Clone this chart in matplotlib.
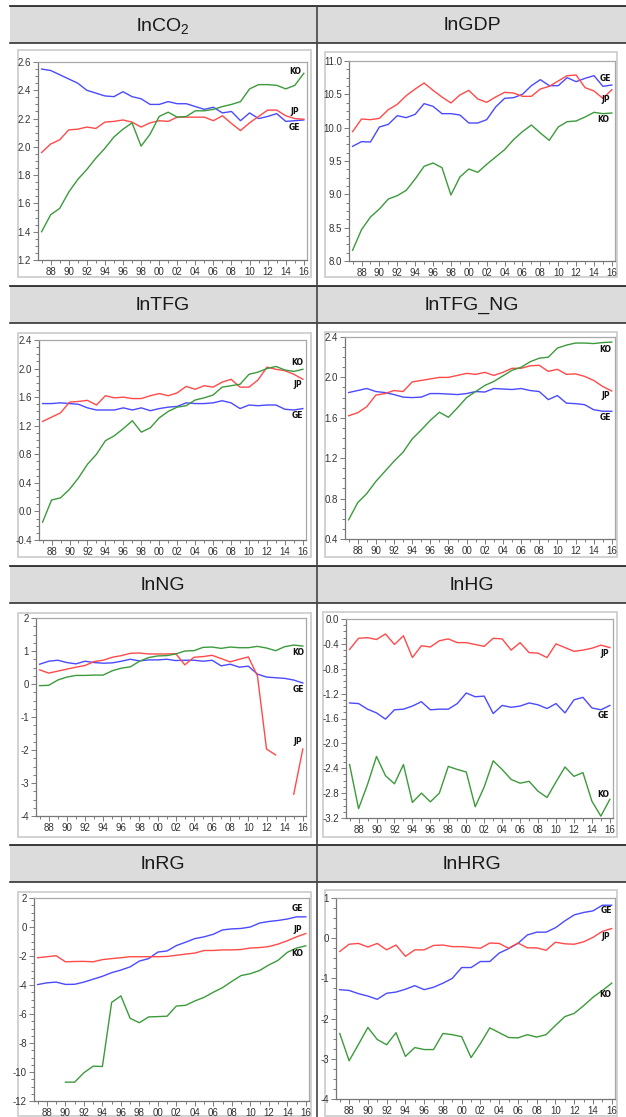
import numpy as np
import matplotlib
matplotlib.use("Agg")
import matplotlib.pyplot as plt
from matplotlib.patches import Rectangle
from matplotlib.lines import Line2D
from matplotlib.ticker import MultipleLocator, FuncFormatter

plt.rcParams['font.family'] = ['Liberation Sans', 'DejaVu Sans']
plt.rcParams['axes.unicode_minus'] = False
plt.rcParams['mathtext.fontset'] = 'custom'
plt.rcParams['mathtext.rm'] = 'Liberation Sans'
plt.rcParams['mathtext.it'] = 'Liberation Sans'

years = np.arange(1987, 2017)
nan = np.nan

# ---- data (1987..2016) ----
co2_ge = [2.55, 2.54, 2.51, 2.48, 2.45, 2.40, 2.38, 2.36, 2.355, 2.39, 2.355, 2.34, 2.30, 2.30, 2.32,
          2.305, 2.305, 2.285, 2.265, 2.28, 2.24, 2.25, 2.185, 2.24, 2.20, 2.215, 2.235, 2.18, 2.185, 2.19]
co2_jp = [1.96, 2.02, 2.05, 2.12, 2.125, 2.14, 2.13, 2.175, 2.18, 2.19, 2.175, 2.14, 2.17, 2.185, 2.18,
          2.21, 2.21, 2.21, 2.21, 2.185, 2.22, 2.165, 2.115, 2.17, 2.215, 2.26, 2.26, 2.22, 2.20, 2.195]
co2_ko = [1.40, 1.52, 1.565, 1.68, 1.77, 1.84, 1.92, 1.99, 2.07, 2.125, 2.17, 2.005, 2.09, 2.215, 2.245,
          2.21, 2.215, 2.255, 2.255, 2.265, 2.285, 2.30, 2.32, 2.41, 2.44, 2.44, 2.435, 2.41, 2.435, 2.52]

gdp_ge = [9.72, 9.79, 9.785, 10.01, 10.05, 10.18, 10.15, 10.20, 10.36, 10.32, 10.21, 10.21, 10.19, 10.07, 10.07,
          10.12, 10.31, 10.44, 10.45, 10.50, 10.63, 10.72, 10.63, 10.63, 10.75, 10.69, 10.74, 10.78, 10.62, 10.64]
gdp_jp = [9.94, 10.13, 10.12, 10.14, 10.27, 10.35, 10.48, 10.58, 10.67, 10.56, 10.46, 10.37, 10.49, 10.56, 10.43,
          10.38, 10.46, 10.53, 10.52, 10.47, 10.47, 10.58, 10.62, 10.70, 10.78, 10.79, 10.60, 10.55, 10.44, 10.57]
gdp_ko = [8.16, 8.47, 8.66, 8.78, 8.93, 8.98, 9.06, 9.23, 9.42, 9.47, 9.40, 8.99, 9.26, 9.38, 9.33,
          9.45, 9.56, 9.67, 9.82, 9.94, 10.04, 9.92, 9.81, 10.01, 10.09, 10.10, 10.16, 10.23, 10.21, 10.22]

tfg_ge = [1.51, 1.51, 1.52, 1.51, 1.50, 1.45, 1.42, 1.42, 1.42, 1.45, 1.42, 1.45, 1.41, 1.44, 1.46,
          1.47, 1.52, 1.51, 1.51, 1.52, 1.55, 1.52, 1.44, 1.49, 1.48, 1.49, 1.49, 1.43, 1.42, 1.44]
tfg_jp = [1.26, 1.32, 1.38, 1.53, 1.54, 1.555, 1.49, 1.62, 1.59, 1.60, 1.58, 1.58, 1.62, 1.65, 1.62,
          1.66, 1.75, 1.71, 1.76, 1.74, 1.81, 1.85, 1.74, 1.74, 1.84, 2.02, 1.99, 1.97, 1.92, 1.85]
tfg_ko = [-0.15, 0.16, 0.19, 0.31, 0.47, 0.66, 0.80, 0.99, 1.06, 1.16, 1.27, 1.11, 1.17, 1.31, 1.40,
          1.46, 1.48, 1.56, 1.59, 1.63, 1.74, 1.76, 1.78, 1.92, 1.95, 2.00, 2.03, 1.98, 1.96, 1.99]

tfgng_ge = [1.85, 1.87, 1.89, 1.86, 1.85, 1.83, 1.805, 1.80, 1.805, 1.84, 1.84, 1.835, 1.83, 1.84, 1.86,
            1.855, 1.89, 1.885, 1.88, 1.89, 1.87, 1.86, 1.78, 1.82, 1.745, 1.74, 1.73, 1.68, 1.665, 1.665]
tfgng_jp = [1.62, 1.65, 1.71, 1.825, 1.84, 1.87, 1.86, 1.955, 1.97, 1.985, 2.00, 2.00, 2.02, 2.04, 2.03,
            2.05, 2.02, 2.05, 2.09, 2.09, 2.115, 2.12, 2.06, 2.08, 2.03, 2.035, 2.01, 1.97, 1.91, 1.865]
tfgng_ko = [0.59, 0.76, 0.85, 0.97, 1.07, 1.17, 1.26, 1.39, 1.48, 1.575, 1.655, 1.605, 1.70, 1.80, 1.86,
            1.92, 1.96, 2.015, 2.07, 2.10, 2.155, 2.19, 2.20, 2.29, 2.32, 2.34, 2.34, 2.335, 2.345, 2.35]

ng_ge = [0.60, 0.69, 0.72, 0.65, 0.61, 0.69, 0.65, 0.63, 0.64, 0.69, 0.75, 0.70, 0.73, 0.73, 0.75,
         0.71, 0.72, 0.72, 0.69, 0.72, 0.55, 0.60, 0.51, 0.54, 0.30, 0.21, 0.19, 0.17, 0.12, 0.03]
ng_jp = [0.43, 0.33, 0.39, 0.45, 0.51, 0.56, 0.68, 0.72, 0.81, 0.86, 0.93, 0.94, 0.91, 0.91, 0.91,
         0.92, 0.58, 0.81, 0.83, 0.87, 0.77, 0.67, 0.75, 0.82, 0.25, -1.97, -2.15, nan, -3.34, -1.97]
ng_ko = [-0.05, -0.04, 0.12, 0.21, 0.26, 0.26, 0.27, 0.27, 0.40, 0.48, 0.52, 0.69, 0.80, 0.85, 0.86,
         0.91, 1.00, 1.01, 1.11, 1.12, 1.08, 1.12, 1.10, 1.10, 1.14, 1.09, 1.01, 1.13, 1.18, 1.15]

hg_jp = [-0.49, -0.31, -0.30, -0.33, -0.24, -0.41, -0.27, -0.62, -0.43, -0.45, -0.35, -0.32, -0.38, -0.38, -0.41,
         -0.44, -0.31, -0.32, -0.50, -0.38, -0.54, -0.55, -0.62, -0.40, -0.46, -0.52, -0.50, -0.47, -0.42, -0.46]
hg_ge = [-1.35, -1.36, -1.45, -1.51, -1.61, -1.46, -1.45, -1.40, -1.33, -1.46, -1.45, -1.45, -1.36, -1.19, -1.25,
         -1.24, -1.52, -1.39, -1.42, -1.40, -1.35, -1.38, -1.44, -1.36, -1.51, -1.30, -1.26, -1.43, -1.46, -1.39]
hg_ko = [-2.34, -3.05, -2.66, -2.21, -2.52, -2.65, -2.34, -2.95, -2.80, -2.94, -2.80, -2.37, -2.42, -2.46, -3.02,
         -2.70, -2.28, -2.42, -2.58, -2.64, -2.61, -2.77, -2.87, -2.62, -2.38, -2.53, -2.47, -2.93, -3.17, -2.90]

rg_ge = [-3.97, -3.85, -3.80, -3.96, -3.95, -3.80, -3.60, -3.40, -3.15, -2.97, -2.75, -2.35, -2.18, -1.73, -1.65,
         -1.28, -1.05, -0.80, -0.68, -0.50, -0.20, -0.13, -0.10, 0.00, 0.27, 0.38, 0.45, 0.55, 0.70, 0.70]
rg_jp = [-2.12, -2.05, -1.98, -2.40, -2.38, -2.37, -2.40, -2.25, -2.18, -2.12, -2.05, -2.05, -2.05, -2.05, -2.03,
         -1.95, -1.87, -1.80, -1.62, -1.62, -1.58, -1.58, -1.55, -1.45, -1.42, -1.35, -1.18, -0.95, -0.68, -0.45]
rg_ko = [nan, nan, nan, -10.7, -10.7, -10.05, -9.6, -9.62, -5.2, -4.75, -6.3, -6.6, -6.2, -6.18, -6.15,
         -5.45, -5.40, -5.10, -4.85, -4.50, -4.18, -3.75, -3.35, -3.22, -3.00, -2.62, -2.30, -1.75, -1.45, -1.30]

hrg_jp = [-0.33, -0.15, -0.13, -0.22, -0.13, -0.29, -0.17, -0.45, -0.29, -0.29, -0.18, -0.17, -0.21, -0.21, -0.23,
          -0.25, -0.12, -0.13, -0.25, -0.12, -0.24, -0.24, -0.30, -0.10, -0.14, -0.15, -0.09, 0.02, 0.17, 0.24]
hrg_ge = [-1.28, -1.30, -1.38, -1.44, -1.52, -1.37, -1.34, -1.27, -1.18, -1.28, -1.22, -1.12, -1.00, -0.73, -0.73,
          -0.58, -0.58, -0.37, -0.26, -0.13, 0.08, 0.15, 0.15, 0.26, 0.43, 0.58, 0.64, 0.68, 0.82, 0.82]
hrg_ko = [-2.37, -3.05, -2.64, -2.22, -2.52, -2.65, -2.35, -2.94, -2.72, -2.77, -2.77, -2.37, -2.40, -2.45, -2.97,
          -2.62, -2.23, -2.35, -2.47, -2.48, -2.40, -2.46, -2.40, -2.17, -1.95, -1.87, -1.68, -1.47, -1.30, -1.12]

titles = ['lnCO$_2$', 'lnGDP', 'lnTFG', 'lnTFG_NG', 'lnNG', 'lnHG', 'lnRG', 'lnHRG']
series = [
    (co2_ge, co2_jp, co2_ko), (gdp_ge, gdp_jp, gdp_ko),
    (tfg_ge, tfg_jp, tfg_ko), (tfgng_ge, tfgng_jp, tfgng_ko),
    (ng_ge, ng_jp, ng_ko), (hg_ge, hg_jp, hg_ko),
    (rg_ge, rg_jp, rg_ko), (hrg_ge, hrg_jp, hrg_ko),
]
# y range / major step / tick format
yaxes = [(1.2, 2.6, 0.2, '%.1f'), (8.0, 11.0, 0.5, '%.1f'),
         (-0.4, 2.4, 0.4, '%.1f'), (0.4, 2.4, 0.4, '%.1f'),
         (-4, 2, 1, '%d'), (-3.2, 0.0, 0.4, '%.1f'),
         (-12, 2, 2, '%d'), (-4, 1, 1, '%d')]
# in-chart series labels (GE, JP, KO): (x, y)
label_pos = [
    [(2015.0, 2.135), (2015.0, 2.25), (2015.0, 2.53)],
    [(2015.3, 10.74), (2015.3, 10.43), (2015.0, 10.13)],
    [(2015.4, 1.34), (2015.4, 1.78), (2015.4, 2.08)],
    [(2015.3, 1.60), (2015.3, 1.82), (2015.3, 2.28)],
    [(2015.5, -0.16), (2015.4, -1.75), (2015.5, 0.94)],
    [(2015.3, -1.55), (2015.4, -0.56), (2015.3, -2.82)],
    [(2015.1, 1.26), (2015.1, -0.16), (2015.1, -1.84)],
    [(2015.4, 0.69), (2015.4, 0.05), (2015.3, -1.41)],
]
names = ['GE', 'JP', 'KO']
colors = ['#4a4aff', '#ff4a4a', '#3c9a3c']

W, H = 626, 1117
# plot boxes (x0, x1, y0, y1) in pixels, chart frames, header rows
boxes = [(38, 307, 62, 260), (349, 615, 61, 261),
         (39, 306, 340, 540), (345, 615, 337, 539),
         (36, 306, 618, 816), (346, 613, 619, 818),
         (34, 309, 898, 1101), (336, 615, 898, 1099)]
frames = [(18, 311, 50, 277), (325, 617, 52, 277),
          (18, 311, 333, 557), (325, 617, 332, 557),
          (18, 311, 613, 837), (323, 617, 612, 837),
          (18, 311, 892, 1116), (325, 617, 890, 1116)]
headers = [(6, 43), (286, 323), (566, 603), (845, 882)]


def fx(x):
    return x / W


def fy(y):
    return 1 - y / H


fig = plt.figure(figsize=(W / 100, H / 100), dpi=100)

# table headers and rules
for top, bot in headers:
    fig.add_artist(Rectangle((fx(10), fy(bot)), fx(616), (bot - top) / H,
                             facecolor='#dcdcdc', edgecolor='none', zorder=0))
    fig.add_artist(Line2D([fx(10), fx(626)], [fy(top), fy(top)], color='#1a1a1a', lw=1.2))
    fig.add_artist(Line2D([fx(10), fx(626)], [fy(bot), fy(bot)], color='#333333', lw=1.2))
fig.add_artist(Line2D([fx(317), fx(317)], [fy(6), fy(1117)], color='#444444', lw=1.2))

for i in range(8):
    col = i % 2
    top, bot = headers[i // 2]
    cx = 163 if col == 0 else 472
    fig.text(fx(cx), fy((top + bot) / 2 + 1), titles[i], ha='center', va='center',
             fontsize=14, color='#1a1a1a')

    f0, f1, g0, g1 = frames[i]
    fig.add_artist(Rectangle((fx(f0), fy(g1)), (f1 - f0) / W, (g1 - g0) / H,
                             facecolor='white', edgecolor='#cfcfcf', lw=1.3, zorder=1))

    x0, x1, y0, y1 = boxes[i]
    ax = fig.add_axes([fx(x0), fy(y1), (x1 - x0) / W, (y1 - y0) / H])
    ax.set_zorder(2)
    for k in range(3):
        ax.plot(years, series[i][k], color=colors[k], lw=1.0)
        lx, ly = label_pos[i][k]
        ax.text(lx, ly, names[k], ha='center', va='center', fontsize=5.5,
                fontweight='bold', family='DejaVu Sans', color='#111111')

    lo, hi, step, fmt = yaxes[i]
    ax.set_ylim(lo, hi)
    ax.set_xlim(1986.6, 2016.35)
    ax.yaxis.set_major_locator(MultipleLocator(step))
    ax.yaxis.set_minor_locator(MultipleLocator(step / 4))
    ax.yaxis.set_major_formatter(FuncFormatter(lambda v, p, fmt=fmt: fmt % v))
    ax.set_xticks(np.arange(1988, 2017, 2))
    ax.set_xticks(years, minor=True)
    ax.xaxis.set_major_formatter(FuncFormatter(lambda v, p: '%02d' % (int(round(v)) % 100)))
    ax.tick_params(which='both', direction='out', color='#666666', width=0.6,
                   labelsize=7, labelcolor='#333333')
    ax.tick_params(which='major', length=3.5, pad=1.5)
    ax.tick_params(which='minor', length=2)
    for s in ax.spines.values():
        s.set_color('#a8a8a8')
        s.set_linewidth(0.9)
    ax.spines['left'].set_color('#777777')
    ax.spines['bottom'].set_color('#777777')

fig.savefig('out.png', dpi=100)
